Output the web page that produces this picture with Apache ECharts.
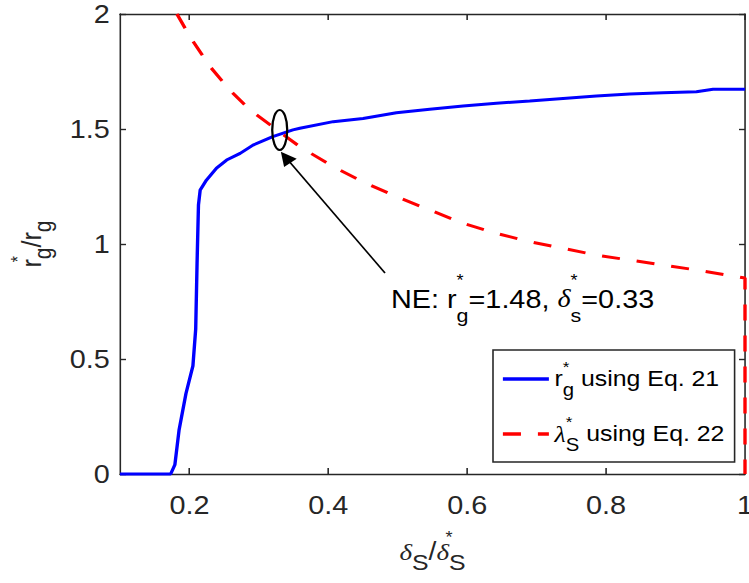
<!DOCTYPE html>
<html><head><meta charset="utf-8">
<script src="https://cdn.jsdelivr.net/npm/echarts@6/dist/echarts.min.js"></script>
<style>
html,body{margin:0;padding:0;background:#fff;overflow:hidden}
#c{width:663px;height:583px;transform:scaleX(1.129713);transform-origin:0 0}
</style>
</head><body><div id="c"></div>
<script>
// r*_g using Eq. 21 (blue solid)
const rgX = [0.1, 0.173, 0.179, 0.185, 0.195, 0.205, 0.209, 0.211, 0.213, 0.2155, 0.2245, 0.239, 0.2535, 0.273, 0.2915, 0.32, 0.349, 0.359, 0.407, 0.45, 0.498, 0.546, 0.594, 0.642, 0.69, 0.738, 0.786, 0.834, 0.882, 0.93, 0.954, 1.0];
const rgY = [0, 0, 0.04, 0.19, 0.35, 0.47, 0.63, 0.92, 1.17, 1.235, 1.278, 1.33, 1.365, 1.394, 1.43, 1.467, 1.496, 1.503, 1.532, 1.546, 1.571, 1.586, 1.6, 1.612, 1.622, 1.633, 1.643, 1.652, 1.658, 1.662, 1.673, 1.673];
// lambda*_S using Eq. 22 (red dashed)
const lamX = [0.182, 0.201, 0.23, 0.258, 0.287, 0.326, 0.359, 0.407, 0.45, 0.498, 0.546, 0.594, 0.642, 0.69, 0.738, 0.786, 0.834, 0.882, 0.93, 0.988, 1.0, 1.0];
const lamY = [2.0, 1.9, 1.77, 1.67, 1.583, 1.496, 1.423, 1.336, 1.27, 1.206, 1.148, 1.09, 1.046, 1.01, 0.981, 0.952, 0.93, 0.909, 0.887, 0.858, 0.852, 0];
const xTicks = [0.2, 0.4, 0.6, 0.8, 1];
const yTicks = [0, 0.5, 1, 1.5, 2];
// annotation anchors (data coords)
const neCenter = [0.33, 1.496];
const arrowFrom = [0.4816, 0.874];
const arrowTo = [0.3385, 1.377];

const S = 749 / 663; // horizontal stretch of the whole figure
const AX = '#262626';
const SANS = 'Liberation Sans, Arial, sans-serif';
const SERIF = 'Liberation Serif, Times New Roman, serif';
const axisLine = {show: true, onZero: false, lineStyle: {color: AX, width: 1.4}};
const tickX = {show: true, inside: true, length: 6, customValues: xTicks, lineStyle: {color: AX, width: 1.4}};
const tickY = {show: true, inside: true, length: 6 / S, lineStyle: {color: AX, width: 1.4}};

const chart = echarts.init(document.getElementById('c'), null, {renderer: 'svg'});
const zip = (a, b) => a.map((v, i) => [v, b[i]]);

const legendRich = {
  m: {fontSize: 22, fontFamily: SANS, color: '#000', lineHeight: 40},
  gk: {fontSize: 23, fontFamily: SERIF, fontStyle: 'italic', color: '#000', lineHeight: 40},
  sp: {fontSize: 15, fontFamily: SANS, color: '#000', lineHeight: 16, verticalAlign: 'top', width: 0},
  sb: {fontSize: 18, fontFamily: SANS, color: '#000', lineHeight: 14, verticalAlign: 'bottom'}
};

chart.setOption({
  animation: false,
  backgroundColor: '#fff',
  grid: {left: 120 / S, right: 4 / S, top: 14, bottom: 109, containLabel: false, outerBoundsMode: 'none'},
  xAxis: [{
    type: 'value', min: 0.1, max: 1, position: 'bottom',
    axisLine, axisTick: tickX, splitLine: {show: false},
    axisLabel: {customValues: xTicks, fontSize: 25.5, fontFamily: SANS, color: AX, margin: 18},
    name: '{d|δ}{sb|S}{m|/}{d|δ}{sp|*}{sb|S}', nameLocation: 'middle', nameGap: 56,
    nameTextStyle: {rich: {
      d: {fontSize: 24, fontFamily: SERIF, fontStyle: 'italic', color: AX, lineHeight: 44},
      m: {fontSize: 25, fontFamily: SANS, color: AX, lineHeight: 44},
      sp: {fontSize: 16, fontFamily: SANS, color: AX, lineHeight: 17, verticalAlign: 'top', width: 0},
      sb: {fontSize: 22, fontFamily: SANS, color: AX, lineHeight: 18, verticalAlign: 'bottom'}
    }}
  }, {
    type: 'value', min: 0.1, max: 1, position: 'top',
    axisLine, axisTick: tickX, axisLabel: {show: false}, splitLine: {show: false}
  }],
  yAxis: [{
    type: 'value', min: 0, max: 2, interval: 0.5, position: 'left',
    axisLine, axisTick: tickY, splitLine: {show: false},
    axisLabel: {fontSize: 25.5, fontFamily: SANS, color: AX, margin: 9},
    name: '{m|r}{sp|*}{sb|g}{m|/r}{sb|g}', nameLocation: 'middle', nameGap: 58, nameRotate: 90,
    nameTextStyle: {rich: {
      m: {fontSize: 25, fontFamily: SANS, color: AX, lineHeight: 40},
      sp: {fontSize: 16, fontFamily: SANS, color: AX, lineHeight: 16, verticalAlign: 'top', width: 0},
      sb: {fontSize: 21, fontFamily: SANS, color: AX, lineHeight: 16, verticalAlign: 'bottom'}
    }}
  }, {
    type: 'value', min: 0, max: 2, interval: 0.5, position: 'right',
    axisLine, axisTick: tickY, axisLabel: {show: false}, splitLine: {show: false}
  }],
  legend: {
    orient: 'vertical', left: 493 / S, top: 350,
    padding: [9, 9, 8, 7], itemGap: 15, itemWidth: 46 / S, itemHeight: 14,
    borderColor: AX, borderWidth: 1.4, backgroundColor: '#fff',
    itemStyle: {opacity: 0},
    lineStyle: {width: 3.5},
    data: ['rg', 'lam'],
    formatter: function (n) {
      return n === 'rg' ? '{m|r}{sp|*}{sb|g}{m| using Eq. 21}' : '{gk|λ}{sp|*}{sb|S}{m| using Eq. 22}';
    },
    textStyle: {rich: legendRich}
  },
  series: [{
    name: 'rg', type: 'line', data: zip(rgX, rgY), showSymbol: false, symbol: 'none',
    clip: false, lineStyle: {color: '#0000ff', width: 3}, itemStyle: {color: '#0000ff'},
    markLine: {
      silent: true, animation: false, label: {show: false},
      lineStyle: {color: '#000', width: 1.5, type: 'solid'},
      data: [[{coord: arrowFrom, symbol: 'none'}, {coord: arrowTo, symbol: 'triangle', symbolSize: 14}]]
    }
  }, {
    name: 'lam', type: 'line', data: zip(lamX, lamY), showSymbol: false, symbol: 'none',
    clip: false, lineStyle: {color: '#ff0000', width: 3, type: [16, 15]}, itemStyle: {color: '#ff0000'}
  }]
});

const c = chart.convertToPixel({gridIndex: 0}, neCenter);
chart.setOption({
  graphic: [{
    type: 'ellipse', shape: {cx: c[0], cy: c[1], rx: 7.5 / S, ry: 20},
    style: {fill: 'none', stroke: '#000', lineWidth: 2}, z: 10
  }, {
    type: 'text', x: 391 / S, y: 299, z: 10,
    style: {
      text: '{m|NE: r}{sp|*}{sb|g}{m|=1.48, }{d|δ}{sp|*}{sb|s}{m|=0.33}',
      align: 'left', verticalAlign: 'middle',
      rich: {
        m: {fontSize: 25.5, fontFamily: SANS, fill: '#000', lineHeight: 52},
        d: {fontSize: 25, fontFamily: SERIF, fontStyle: 'italic', fill: '#000', lineHeight: 52},
        sp: {fontSize: 16, fontFamily: SANS, fill: '#000', lineHeight: 28, verticalAlign: 'top', width: 0},
        sb: {fontSize: 19, fontFamily: SANS, fill: '#000', lineHeight: 13, verticalAlign: 'bottom'}
      }
    }
  }]
});
</script></body></html>
